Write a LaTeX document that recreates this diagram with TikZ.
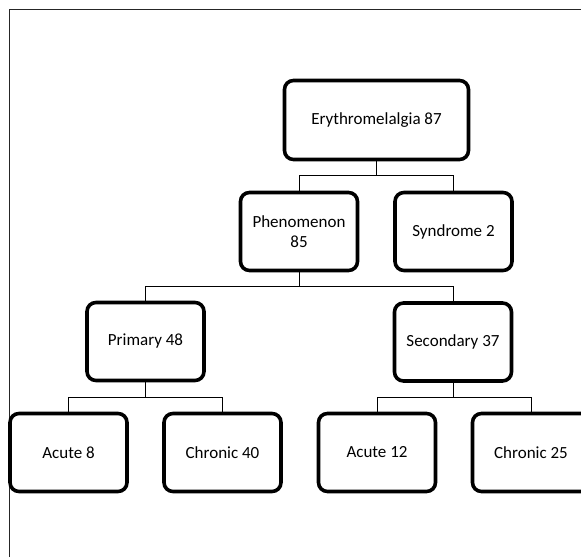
\documentclass[tikz,border=0pt]{standalone}
\usepackage{fontspec}
\setmainfont{Carlito}
\begin{document}
\begin{tikzpicture}[x=1pt,y=1pt,
  box/.style={draw=black, fill=white, line width=3.6pt, rounded corners=9pt,
    minimum width=117pt, minimum height=78pt, inner sep=2pt, align=center,
    font=\fontsize{17}{19.5}\selectfont},
  wire/.style={draw=black, line width=1pt},
  frame/.style={draw=black!85, line width=1.8pt}]
\useasboundingbox (0,0) rectangle (581,-557);
\begin{scope}
\clip (0,0) rectangle (581,-557);
\draw[frame] (9.5,-557) -- (9.5,-9.5) -- (581,-9.5);

\node[box, minimum width=184pt, minimum height=79pt] (root) at (376.5,-120) {Erythromelalgia 87};
\node[box] (phen) at (299,-231.5) {Phenomenon\\85};
\node[box] (syn) at (453.5,-231.5) {Syndrome 2};
\node[box] (prim) at (145.5,-341.5) {Primary 48};
\node[box] (sec) at (453,-342) {Secondary 37};
\node[box] (ac1) at (68.5,-452.5) {Acute 8};
\node[box] (ch1) at (222.5,-452.5) {Chronic 40};
\node[box] (ac2) at (377,-452.5) {Acute 12};
\node[box] (ch2) at (531,-452.5) {Chronic 25};

\coordinate (b1) at (0,-175);
\coordinate (b2) at (0,-286.5);
\coordinate (b3) at (0,-397);

\draw[wire] (root.south) -- (root.south |- b1) -| (phen.north);
\draw[wire] (root.south |- b1) -| (syn.north);
\draw[wire] (phen.south) -- (phen.south |- b2) -| (prim.north);
\draw[wire] (phen.south |- b2) -| (sec.north);
\draw[wire] (prim.south) -- (prim.south |- b3) -| (ac1.north);
\draw[wire] (prim.south |- b3) -| (ch1.north);
\draw[wire] (sec.south) -- (sec.south |- b3) -| (ac2.north);
\draw[wire] (sec.south |- b3) -| (ch2.north);
\end{scope}
\end{tikzpicture}
\end{document}
